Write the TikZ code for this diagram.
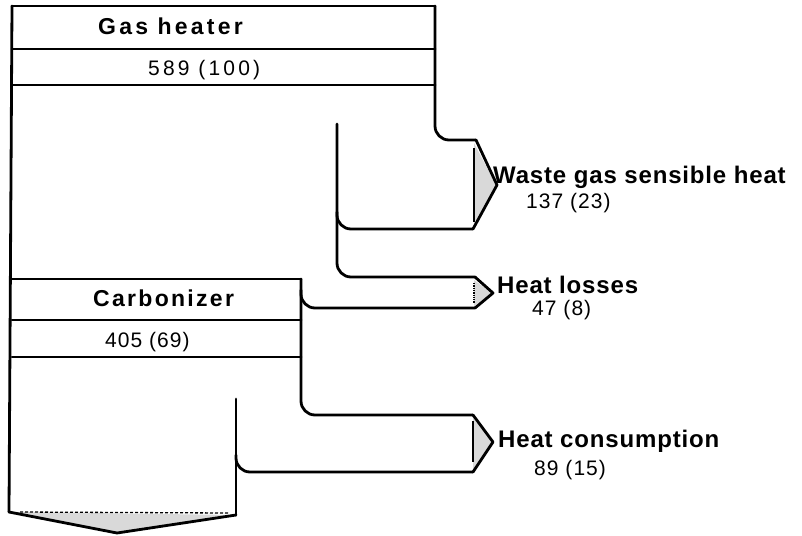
\documentclass[tikz,border=0pt]{standalone}
\usepackage{fontspec}
\setmainfont{Liberation Sans}
\newfontfamily\labf[LetterSpace=3.5]{Liberation Sans}
\newfontfamily\boxf[LetterSpace=10]{Liberation Sans}
\newfontfamily\boxwf[LetterSpace=14]{Liberation Sans}
\newfontfamily\numf[LetterSpace=5]{Liberation Sans}
\newfontfamily\numwf[LetterSpace=15]{Liberation Sans}
\begin{document}
\begin{tikzpicture}[x=1pt,y=-1pt,
  flow/.style={line width=2.8pt, line cap=round, line join=round},
  curv/.style={flow, rounded corners=14pt},
  thinl/.style={line width=1.3pt},
  shade/.style={fill=gray!30, draw=none},
  lab/.style={anchor=base west, inner sep=0pt, font=\fontsize{24}{28}\selectfont\labf\bfseries},
  boxlab/.style={anchor=base west, inner sep=0pt, font=\fontsize{23}{28}\selectfont\boxf\bfseries},
  boxlabw/.style={anchor=base west, inner sep=0pt, font=\fontsize{23}{28}\selectfont\boxwf\bfseries},
  num/.style={anchor=base west, inner sep=0pt, font=\fontsize{21}{24}\selectfont\numf},
  numw/.style={anchor=base west, inner sep=0pt, font=\fontsize{21}{24}\selectfont\numwf}]
\useasboundingbox (0,0) rectangle (802,535);
\fill[white] (0,0) rectangle (802,535);
% shaded arrowheads
\fill[shade] (474,143) -- (496,185) -- (474,226) -- cycle;
\fill[shade] (474,280) -- (492,293) -- (474,306) -- cycle;
\fill[shade] (473,418) -- (492,442) -- (473,470) -- cycle;
\fill[shade] (12,512) -- (236,515) -- (117,533) -- cycle;
% arrowhead base lines
\draw[thinl] (474,148) -- (474,222);
\draw[thinl, densely dotted] (474,283) -- (474,303);
\draw[thinl] (473,421) -- (473,462);
\draw[thinl, densely dashed] (20,512) -- (228,513);
% gas heater box
\draw[flow] (12,6) -- (435,6);
\draw[flow] (12,49) -- (435,49);
\draw[flow] (12,85) -- (435,85);
\draw[flow] (12,6) -- (9,512);
\draw[curv] (435,6) -- (435,140) -- (476,140);
% waste gas arrow
\draw[flow] (476,140) -- (497,185) -- (473,229);
\draw[curv] (473,229) -- (337,229) -- (337,212);
\draw[curv] (337,124) -- (337,277) -- (475,277);
% heat losses arrow
\draw[flow] (475,277) -- (493,293) -- (475,308);
\draw[curv] (475,308) -- (301,308) -- (301,290);
% carbonizer box
\draw[flow] (12,279) -- (301,279);
\draw[flow] (12,320) -- (301,320);
\draw[flow] (12,357) -- (301,357);
\draw[curv] (301,279) -- (301,415) -- (473,415);
% heat consumption arrow
\draw[flow] (473,415) -- (493,442) -- (473,472);
\draw[curv] (473,472) -- (236,472) -- (236,455);
\draw[flow] (236,399) -- (236,515);
% bottom arrow
\draw[flow] (9,512) -- (117,533) -- (236,515);
% texts
\node[boxlabw] (gh) at (98,35) {Gas heater};
\node[numw] (ghv) at (148,75) {589 (100)};
\node[boxlab] (cb) at (93,306) {Carbonizer};
\node[num] (cbv) at (105,347) {405 (69)};
\node[lab] (wg) at (493,183) {Waste gas sensible heat};
\node[num] (wgv) at (526,208) {137 (23)};
\node[lab] (hl) at (497,293) {Heat losses};
\node[num] (hlv) at (532,315) {47 (8)};
\node[lab] (hc) at (498,447) {Heat consumption};
\node[num] (hcv) at (534,475) {89 (15)};
\end{tikzpicture}
\end{document}
